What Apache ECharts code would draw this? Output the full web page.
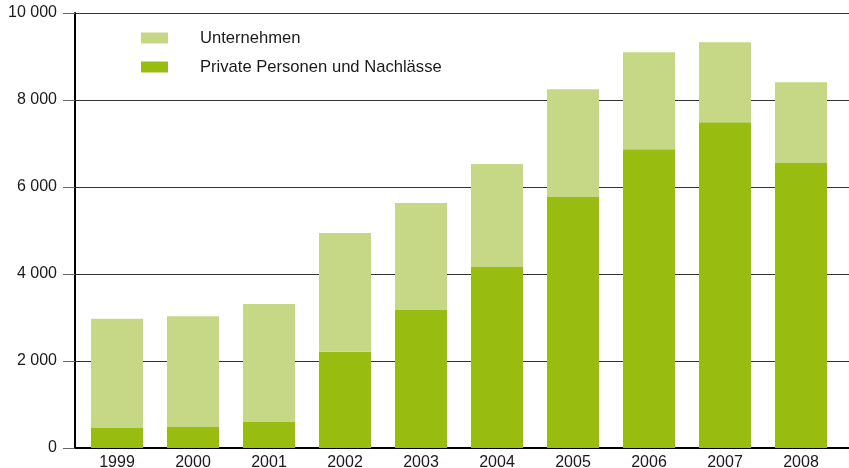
<!DOCTYPE html>
<html>
<head>
<meta charset="utf-8">
<script src="https://cdn.jsdelivr.net/npm/echarts@6/dist/echarts.min.js"></script>
<style>
  html, body { margin: 0; padding: 0; background: #fff; }
  #chart { width: 849px; height: 468px; }
</style>
</head>
<body>
<div id="chart"></div>
<script>
// Years on the category axis
const years = ['1999', '2000', '2001', '2002', '2003', '2004', '2005', '2006', '2007', '2008'];
// Private persons and estates (bottom segment)
const privatePersonen = [460, 480, 600, 2210, 3170, 4160, 5770, 6870, 7490, 6550];
// Companies (top segment)
const unternehmen = [2510, 2550, 2710, 2730, 2460, 2370, 2480, 2230, 1840, 1860];
// Value axis ticks
const yTicks = [0, 2000, 4000, 6000, 8000, 10000];

const COLOR_LIGHT = '#c6d886';
const COLOR_DARK = '#99bc10';
const FONT = 'Liberation Sans, Arial, sans-serif';

function fmt(v) {
  return String(v).replace(/\B(?=(\d{3})+(?!\d))/g, ' ');
}

const chart = echarts.init(document.getElementById('chart'), null, { renderer: 'canvas' });

chart.setOption({
  animation: false,
  backgroundColor: '#fff',
  legend: {
    data: ['Unternehmen', 'Private Personen und Nachlässe'],
    orient: 'vertical',
    left: 136,
    top: 24.5,
    itemWidth: 27,
    itemHeight: 11,
    itemGap: 12,
    icon: 'rect',
    selectedMode: false,
    textStyle: {
      fontFamily: FONT,
      fontSize: 16.6,
      color: '#1a1a1a',
      padding: [0, 0, 0, 27]
    }
  },
  grid: [
    // frame: axis lines, gridlines and value labels
    { left: 75, right: 0, top: 13, bottom: 20, outerBoundsMode: 'none' },
    // bars and year labels
    { left: 79, right: 10, top: 13, bottom: 20, outerBoundsMode: 'none' }
  ],
  xAxis: [
    {
      gridIndex: 0,
      type: 'value',
      min: 0,
      max: 1,
      axisLine: { show: true, onZero: false, lineStyle: { color: '#000', width: 2 } },
      axisTick: { show: false },
      axisLabel: { show: false },
      splitLine: { show: false }
    },
    {
      gridIndex: 1,
      type: 'category',
      data: years,
      axisLine: { show: false },
      axisTick: { show: false },
      axisLabel: {
        margin: 6.5,
        fontFamily: FONT,
        fontSize: 16,
        color: '#1a1a1a'
      }
    }
  ],
  yAxis: [
    {
      gridIndex: 0,
      type: 'value',
      min: yTicks[0],
      max: yTicks[yTicks.length - 1],
      interval: yTicks[1] - yTicks[0],
      axisLine: { show: true, lineStyle: { color: '#000', width: 2 } },
      axisTick: { show: true, length: 12, lineStyle: { color: '#666', width: 1 } },
      axisLabel: {
        margin: 18,
        fontFamily: FONT,
        fontSize: 16,
        color: '#1a1a1a',
        formatter: fmt
      },
      splitLine: { show: true, lineStyle: { color: '#333', width: 1 } }
    },
    {
      gridIndex: 1,
      type: 'value',
      min: yTicks[0],
      max: yTicks[yTicks.length - 1],
      interval: yTicks[1] - yTicks[0],
      show: false,
      splitLine: { show: false }
    }
  ],
  series: [
    {
      name: 'Private Personen und Nachlässe',
      type: 'bar',
      stack: 'total',
      xAxisIndex: 1,
      yAxisIndex: 1,
      barWidth: 52,
      itemStyle: { color: COLOR_DARK },
      data: privatePersonen
    },
    {
      name: 'Unternehmen',
      type: 'bar',
      stack: 'total',
      xAxisIndex: 1,
      yAxisIndex: 1,
      barWidth: 52,
      itemStyle: { color: COLOR_LIGHT },
      data: unternehmen
    }
  ]
});
</script>
</body>
</html>
